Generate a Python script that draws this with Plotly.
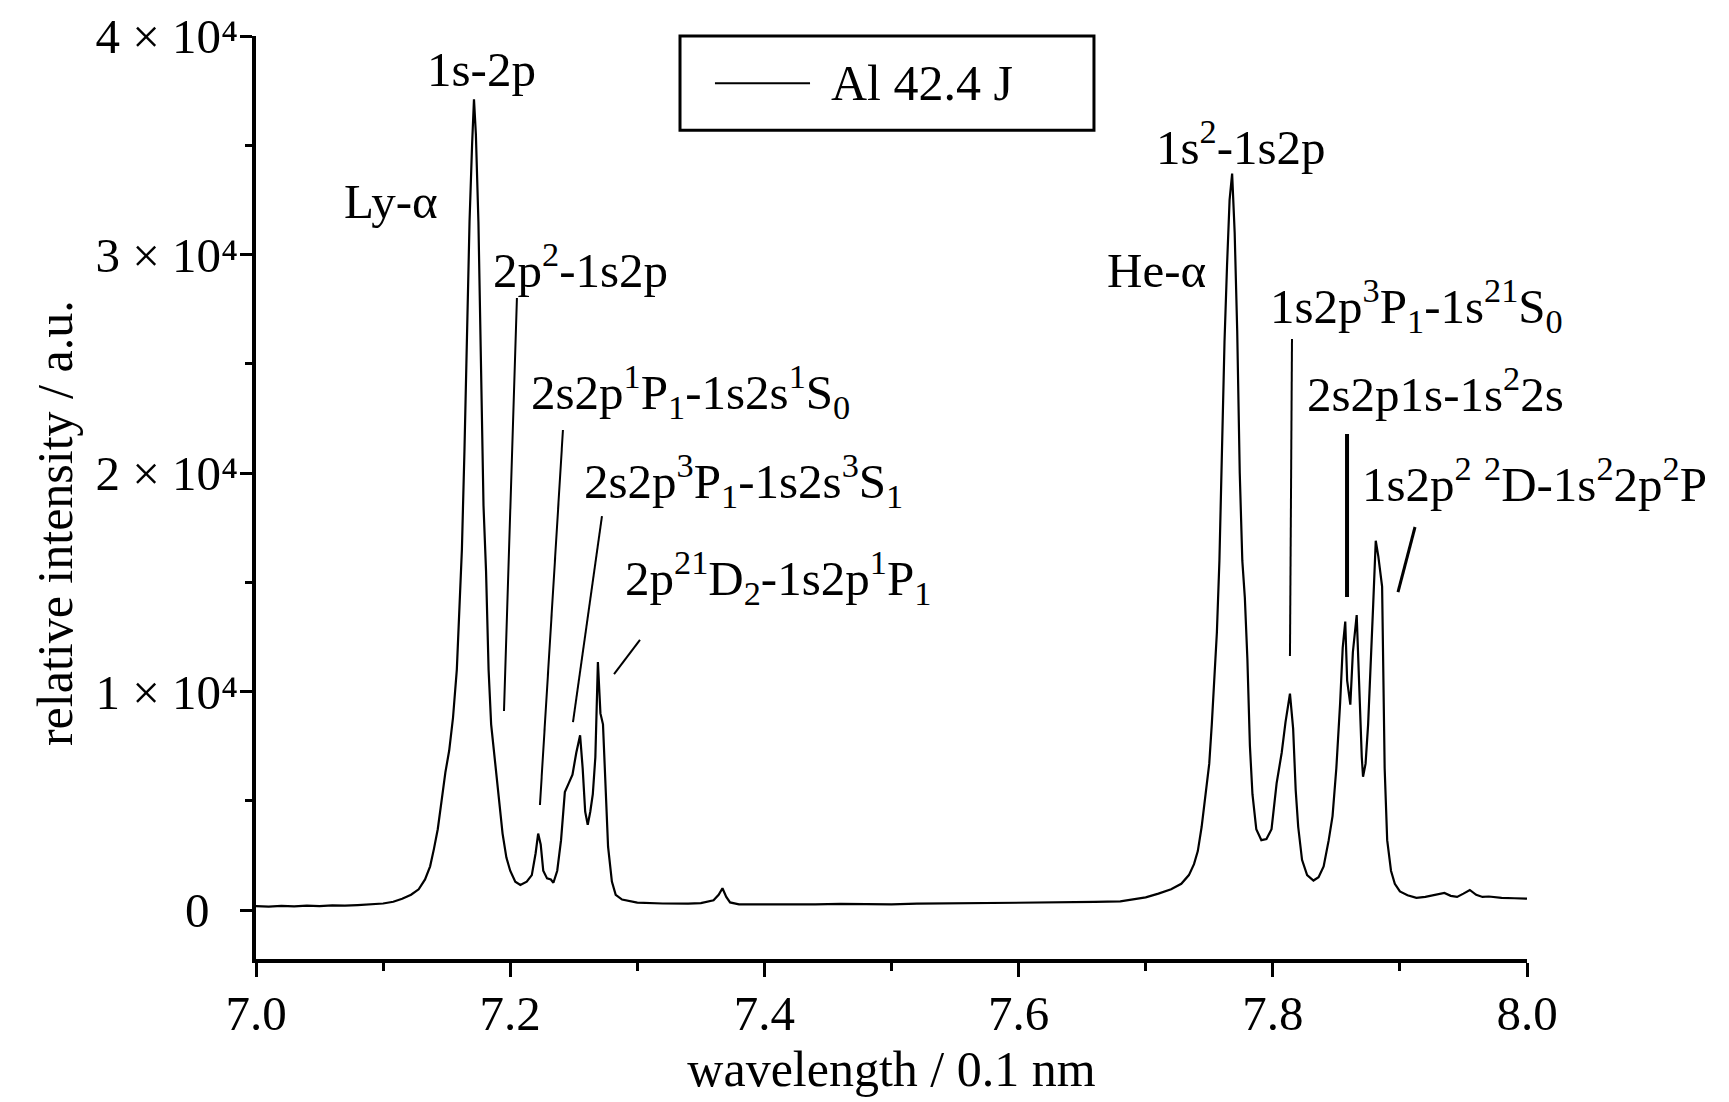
import plotly.graph_objects as go

# ---- data ----
wavelength = [
    7.000, 7.010, 7.020, 7.030, 7.040, 7.050, 7.060, 7.070, 7.080, 7.090,
    7.100, 7.108, 7.115, 7.122, 7.128, 7.133, 7.137, 7.140, 7.143, 7.146,
    7.149, 7.152, 7.155, 7.158, 7.160, 7.162, 7.164, 7.166, 7.168, 7.170,
    7.1715, 7.173, 7.175, 7.177, 7.178, 7.179, 7.181, 7.183, 7.185, 7.188,
    7.191, 7.194, 7.197, 7.200, 7.204, 7.208, 7.213, 7.217, 7.220, 7.222,
    7.224, 7.226, 7.229, 7.232, 7.234, 7.237, 7.240, 7.243, 7.246, 7.249,
    7.252, 7.255, 7.257, 7.259, 7.261, 7.263, 7.265, 7.267, 7.269, 7.271,
    7.273, 7.275, 7.277, 7.280, 7.283, 7.288, 7.295, 7.300, 7.320, 7.340,
    7.350, 7.360, 7.364, 7.367, 7.370, 7.373, 7.380, 7.400, 7.420, 7.440,
    7.460, 7.480, 7.500, 7.520, 7.540, 7.560, 7.580, 7.600, 7.620, 7.640,
    7.660, 7.680, 7.690, 7.700, 7.710, 7.720, 7.728, 7.734, 7.738, 7.741,
    7.744, 7.747, 7.750, 7.752, 7.754, 7.756, 7.758, 7.760, 7.762, 7.764,
    7.766, 7.768, 7.770, 7.772, 7.774, 7.776, 7.778, 7.780, 7.782, 7.784,
    7.787, 7.791, 7.795, 7.799, 7.803, 7.807, 7.810, 7.8135, 7.816, 7.818,
    7.820, 7.823, 7.827, 7.832, 7.836, 7.840, 7.844, 7.847, 7.850, 7.853,
    7.855, 7.857, 7.8585, 7.861, 7.863, 7.866, 7.868, 7.870, 7.871, 7.873,
    7.875, 7.877, 7.879, 7.881, 7.883, 7.886, 7.887, 7.888, 7.890, 7.893,
    7.896, 7.900, 7.906, 7.913, 7.920, 7.930, 7.935, 7.940, 7.945, 7.950,
    7.955, 7.960, 7.965, 7.970, 7.980, 7.990, 8.000,
]
intensity = [
    180, 160, 190, 170, 200, 180, 210, 200, 230, 260,
    300, 380, 520, 700, 950, 1400, 2000, 2800, 3700, 5000,
    6300, 7300, 8800, 11000, 13500, 16500, 21000, 26500, 31500, 35000,
    37100, 35500, 31500, 25000, 21500, 18500, 15500, 11000, 8500, 6800,
    5400, 3500, 2400, 1800, 1300, 1150, 1300, 1600, 2600, 3500,
    3000, 1800, 1450, 1400, 1250, 1800, 3200, 5400, 5800, 6200,
    7200, 8000, 6500, 4500, 3900, 4500, 5300, 7000, 11350, 9000,
    8500, 5500, 2900, 1300, 700, 480, 380, 340, 300, 290,
    320, 450, 700, 1000, 600, 350, 260, 250, 270, 260,
    280, 270, 260, 290, 300, 320, 310, 330, 340, 350,
    370, 400, 480, 580, 750, 950, 1200, 1600, 2100, 2700,
    3800, 5200, 6700, 8500, 10500, 12700, 16000, 21000, 26000, 29500,
    32500, 33700, 31000, 26500, 20000, 16000, 14300, 11500, 7500, 5300,
    3700, 3200, 3250, 3700, 5800, 7200, 8600, 9900, 8300, 5500,
    3800, 2300, 1600, 1350, 1500, 2000, 3200, 4300, 6500, 9500,
    12000, 13200, 10500, 9400, 11800, 13500, 10000, 7000, 6100, 6700,
    8500, 11000, 14000, 16900, 16200, 14800, 10500, 6500, 3200, 1800,
    1200, 850, 680, 560, 600, 700, 780, 650, 600, 750,
    920, 700, 600, 620, 560, 540, 520,
]

x_tick_vals = [7.0, 7.2, 7.4, 7.6, 7.8, 8.0]
x_tick_text = ["7.0", "7.2", "7.4", "7.6", "7.8", "8.0"]
x_minor_vals = [7.1, 7.3, 7.5, 7.7, 7.9]
y_tick_vals = [0, 10000, 20000, 30000, 40000]
y_tick_text = ["0\u2002\u200a", "1 × 10\u2074", "2 × 10\u2074",
               "3 × 10\u2074", "4 × 10\u2074"]
y_minor_vals = [5000, 15000, 25000, 35000]

series_name = "Al 42.4 J"
x_title = "wavelength / 0.1 nm"
y_title = "relative intensity / a.u."

# line labels: (text, x, y, anchor)
labels = [
    ("1s-2p", 7.1778, 38220, "center"),
    ("Ly-α", 7.1062, 32220, "center"),
    ("2p<sup>2</sup>-1s2p", 7.1849, 29200, "left"),
    ("2s2p<sup>1</sup>P<sub>1</sub>-1s2s<sup>1</sup>S<sub>0</sub>", 7.2148, 23480, "left"),
    ("2s2p<sup>3</sup>P<sub>1</sub>-1s2s<sup>3</sup>S<sub>1</sub>", 7.2565, 19450, "left"),
    ("2p<sup>21</sup>D<sub>2</sub>-1s2p<sup>1</sup>P<sub>1</sub>", 7.2888, 15010, "left"),
    ("He-α", 7.7081, 29020, "center"),
    ("1s<sup>2</sup>-1s2p", 7.7750, 34830, "center"),
    ("1s2p<sup>3</sup>P<sub>1</sub>-1s<sup>21</sup>S<sub>0</sub>", 7.7962, 27420, "left"),
    ("2s2p1s-1s<sup>2</sup>2s", 7.8253, 23570, "left"),
    ("1s2p<sup>2</sup> <sup>2</sup>D-1s<sup>2</sup>2p<sup>2</sup>P", 7.8686, 19450, "left"),
]

# pointer lines: (x0, y0, x1, y1, width)
pointers = [
    (7.2053, 28010, 7.1951, 9108, 2),
    (7.2415, 21970, 7.2234, 4806, 2),
    (7.2722, 18030, 7.2494, 8605, 2),
    (7.3021, 12360, 7.2817, 10800, 2),
    (7.8151, 26130, 7.8135, 11625, 2),
    (7.8584, 21790, 7.8584, 14330, 4),
    (7.9119, 17530, 7.8985, 14550, 3),
]

FONT = "Liberation Serif"

fig = go.Figure()
fig.add_trace(go.Scatter(
    x=wavelength, y=intensity, mode="lines", name=series_name,
    line=dict(color="black", width=2.2), showlegend=False,
))

for text, x, y, anchor in labels:
    fig.add_annotation(x=x, y=y, xref="x", yref="y", text=text, showarrow=False,
                       xanchor=anchor, yanchor="middle", yshift=5,
                       font=dict(family=FONT, size=49, color="black"))

for x0, y0, x1, y1, w in pointers:
    fig.add_shape(type="line", xref="x", yref="y", x0=x0, y0=y0, x1=x1, y1=y1,
                  line=dict(color="black", width=w))

# legend box
fig.add_shape(type="rect", xref="paper", yref="paper", x0=0.3336, x1=0.6593,
              y0=0.898, y1=1.0, line=dict(color="black", width=3))
fig.add_shape(type="line", xref="paper", yref="paper", x0=0.3611, x1=0.4359,
              y0=0.9488, y1=0.9488, line=dict(color="black", width=2))
fig.add_annotation(xref="paper", yref="paper", x=0.4508, y=0.9488, text=series_name,
                   showarrow=False, xanchor="left", yanchor="middle",
                   font=dict(family=FONT, size=50, color="black"))

# y-axis title (placed as rotated text, a little below the axis centre as in the reference)
fig.add_annotation(xref="paper", yref="paper", x=-0.1581, y=0.4724, text=y_title,
                   showarrow=False, textangle=-90, xanchor="center", yanchor="middle",
                   font=dict(family=FONT, size=50, color="black"))

# the page body adds an 8px offset; size the figure so the plot lands where the reference has it
fig.update_layout(
    width=1721, height=1094,
    margin=dict(l=248, r=202, t=28, b=143, autoexpand=False),
    paper_bgcolor="white", plot_bgcolor="white",
    font=dict(family=FONT, size=49, color="black"),
)
fig.update_xaxes(
    range=[7.0, 8.0], tickmode="array", tickvals=x_tick_vals, ticktext=x_tick_text,
    ticks="outside", ticklen=14, tickwidth=3, tickcolor="black",
    minor=dict(tickmode="array", tickvals=x_minor_vals, ticks="outside",
               ticklen=8, tickwidth=3, tickcolor="black"),
    showline=True, linewidth=4, linecolor="black", showgrid=False, zeroline=False,
    tickfont=dict(family=FONT, size=49), ticklabelstandoff=-6, automargin=False,
    title=dict(text=x_title, font=dict(family=FONT, size=50), standoff=8),
)
fig.update_yaxes(
    range=[-2240, 40000], tickmode="array", tickvals=y_tick_vals, ticktext=y_tick_text,
    ticks="outside", ticklen=12, tickwidth=3, tickcolor="black",
    minor=dict(tickmode="array", tickvals=y_minor_vals, ticks="outside",
               ticklen=7, tickwidth=3, tickcolor="black"),
    showline=True, linewidth=4, linecolor="black", showgrid=False, zeroline=False,
    tickfont=dict(family=FONT, size=49), ticklabelstandoff=-8,
    ticklabeloverflow="allow", automargin=False,
)

fig.write_html("out.html")
